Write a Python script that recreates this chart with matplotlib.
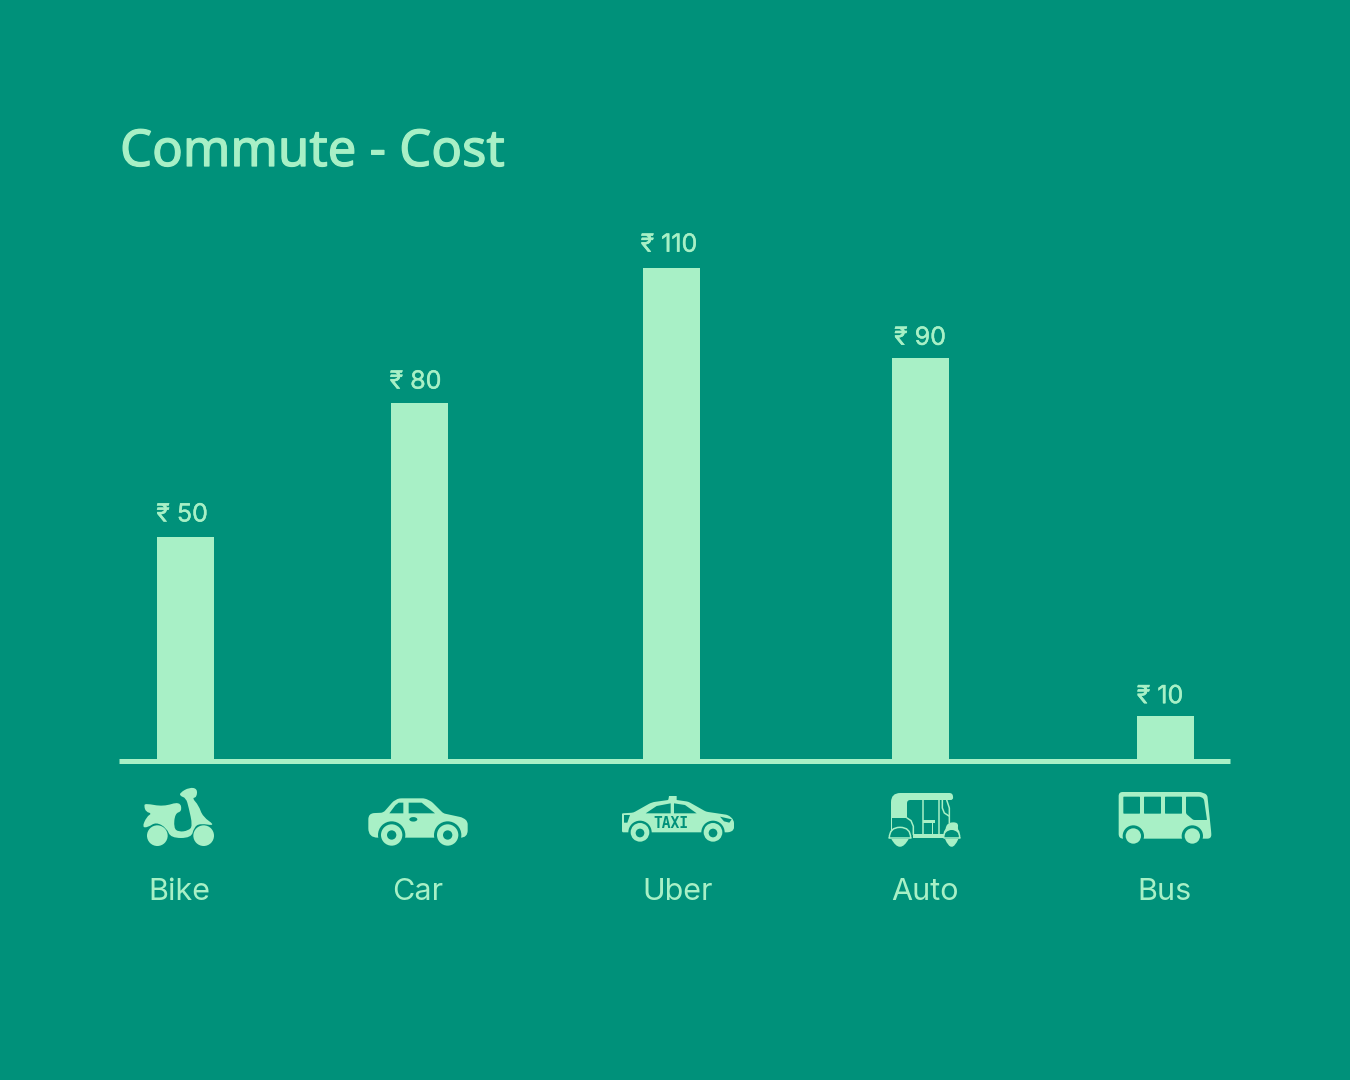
import matplotlib
matplotlib.use("Agg")
import numpy as np
import matplotlib.pyplot as plt
import matplotlib.patheffects as pe
from matplotlib.path import Path
from matplotlib.patches import PathPatch, Circle, Ellipse, Polygon

BG = "#00917A"
FG = "#A8F0C6"

modes = ["Bike", "Car", "Uber", "Auto", "Bus"]
costs = [50, 80, 110, 90, 10]
bar_x = [185.5, 419.5, 671.5, 920.5, 1165.5]
label_x = [179, 418, 678, 925, 1165]
cost_x = [182, 415.5, 669, 920, 1160]
cost_gap = [15.5, 14, 16.5, 13, 13]

W, H = 1350, 1080
BASE_Y = 761
PX_PER_RUPEE = 4.48

plt.rcParams["font.family"] = ["Inter", "DejaVu Sans"]

fig = plt.figure(figsize=(W / 100, H / 100), dpi=100, facecolor=BG)

# overlay in pixel coordinates for the icons and text
ov = fig.add_axes([0, 0, 1, 1], zorder=2)
ov.set_xlim(0, W)
ov.set_ylim(H, 0)
ov.axis("off")

# the bars, scaled in rupees
top_y = 200
ax = fig.add_axes([119 / W, 1 - BASE_Y / H, (1230 - 119) / W, (BASE_Y - top_y) / H], zorder=1)
ax.set_facecolor("none")
ax.set_xlim(119, 1230)
ax.set_ylim(0, (BASE_Y - top_y) / PX_PER_RUPEE)
ax.bar(bar_x, costs, width=57, color=FG, linewidth=0)
for s in ["top", "left", "right"]:
    ax.spines[s].set_visible(False)
ax.spines["bottom"].set_color(FG)
ax.spines["bottom"].set_linewidth(5 * 0.72)
ax.spines["bottom"].set_capstyle("butt")
ax.set_xticks([])
ax.set_yticks([])

thicker = [pe.withStroke(linewidth=0.3, foreground=FG)]

for cx, c, gap in zip(cost_x, costs, cost_gap):
    ax.annotate(f"₹ {c}", xy=(cx, c), xytext=(0, gap * 0.72), textcoords="offset points",
                ha="center", va="baseline", color=FG, fontsize=18, path_effects=thicker)

for x, m in zip(label_x, modes):
    ov.text(x, 900, m, ha="center", va="baseline", color=FG, fontsize=22)

ov.text(120, 166, "Commute - Cost", ha="left", va="baseline", color=FG, fontsize=36.6,
        fontfamily="Noto Sans", path_effects=[pe.withStroke(linewidth=0.9, foreground=FG)])


def smooth(pts):
    # closed quadratic curve through the midpoints of pts
    n = len(pts)
    mid = lambda a, b: ((a[0] + b[0]) / 2, (a[1] + b[1]) / 2)
    verts = [mid(pts[-1], pts[0])]
    codes = [Path.MOVETO]
    for i in range(n):
        verts += [pts[i], mid(pts[i], pts[(i + 1) % n])]
        codes += [Path.CURVE3, Path.CURVE3]
    return Path(verts, codes)


def rounded(pts):
    # closed polygon, a third item on a point is the corner radius
    verts, codes = [], []
    n = len(pts)
    for i, p in enumerate(pts):
        cur = np.array(p[:2], float)
        r = p[2] if len(p) > 2 else 0
        prev = np.array(pts[i - 1][:2], float)
        nxt = np.array(pts[(i + 1) % n][:2], float)
        u = (prev - cur) / np.linalg.norm(prev - cur)
        v = (nxt - cur) / np.linalg.norm(nxt - cur)
        verts += [cur + u * r, cur, cur + v * r]
        codes += [Path.LINETO, Path.CURVE3, Path.CURVE3]
    codes[0] = Path.MOVETO
    verts.append(verts[0])
    codes.append(Path.CLOSEPOLY)
    return Path(verts, codes)


def conv(pts, ox, oy, k=3):
    return [(ox + p[0] / k, oy + p[1] / k) + tuple(c / k for c in p[2:]) for p in pts]


def blob(pts, ox, oy, color=FG, z=3):
    ov.add_patch(PathPatch(smooth(conv(pts, ox, oy)), fc=color, ec="none", zorder=z))


def rpoly(pts, ox, oy, color=FG, z=3):
    ov.add_patch(PathPatch(rounded(conv(pts, ox, oy)), fc=color, ec="none", zorder=z))


def poly(pts, ox, oy, color=FG, z=3):
    ov.add_patch(Polygon(conv(pts, ox, oy), closed=True, fc=color, ec="none", zorder=z))


def disc(x, y, r, ox, oy, color=FG, z=3):
    ov.add_patch(Circle((ox + x / 3, oy + y / 3), r / 3, fc=color, ec="none", zorder=z))


def line(pts, ox, oy, lw=1.1, color=FG, z=5):
    p = conv(pts, ox, oy)
    ov.plot([a for a, _ in p], [b for _, b in p], color=color, lw=lw, solid_capstyle="round", zorder=z)


def draw_bike():
    ox, oy = 120, 770
    blob([(72, 108), (76, 100), (130, 110), (180, 94), (186, 124), (165, 130), (161, 174), (176, 186),
          (205, 182), (218, 168), (206, 112), (198, 84), (180, 78), (180, 68), (208, 52), (232, 56),
          (230, 82), (216, 84), (236, 106), (248, 140), (288, 168), (240, 160), (222, 172), (214, 204),
          (152, 204), (140, 174), (108, 156), (84, 172), (66, 172), (80, 140), (96, 130), (78, 126)], ox, oy)
    disc(112, 197, 31, ox, oy)
    disc(251, 197, 31, ox, oy)


def draw_car():
    ox, oy = 120, 770
    rpoly([(745, 130, 18), (790, 128, 8), (825, 88, 14), (840, 85, 6), (915, 85, 8), (935, 95, 6), (970, 130, 6),
           (1030, 143, 10), (1043, 155, 8), (1043, 203, 22), (745, 203, 28)], ox, oy)
    poly([(808, 130), (826, 106), (836, 98), (850, 98), (850, 130)], ox, oy, BG, z=4)
    poly([(866, 98), (905, 98), (945, 130), (866, 130)], ox, oy, BG, z=4)
    ov.add_patch(Ellipse((ox + 880 / 3, oy + 148 / 3), 8, 4.5, fc=BG, ec="none", zorder=4))
    for cx in (815, 983):
        disc(cx, 195, 41, ox, oy, BG, z=4)
        disc(cx, 195, 32, ox, oy, z=5)
        disc(cx, 195, 14, ox, oy, BG, z=6)


def draw_taxi():
    ox, oy = 600, 770
    rpoly([(66, 130, 3), (100, 128, 6), (155, 97, 10), (205, 90, 3), (207, 78), (230, 78), (230, 90), (265, 95, 6), (318, 125, 6),
           (385, 135, 8), (402, 150, 10), (402, 180, 8), (388, 187, 6), (66, 187, 4)], ox, oy)
    poly([(137, 130), (170, 108), (212, 100), (212, 130)], ox, oy, BG, z=4)
    poly([(222, 100), (255, 105), (290, 130), (222, 130)], ox, oy, BG, z=4)
    poly([(72, 135), (90, 135), (82, 158), (72, 158)], ox, oy, BG, z=4)
    poly([(360, 140), (395, 148), (388, 158), (372, 154)], ox, oy, BG, z=4)
    for cx in (120, 339):
        disc(cx, 187, 35, ox, oy, BG, z=4)
        disc(cx, 187, 28, ox, oy, z=5)
        disc(cx, 189, 13, ox, oy, BG, z=6)
    ov.text(ox + 213 / 3, oy + 160 / 3, "TAXI", ha="center", va="center", color=BG, fontsize=10.5,
            fontfamily="DejaVu Sans Mono", fontweight="bold", zorder=6)


def draw_auto():
    ox, oy = 885, 788
    rpoly([(18, 15, 28), (203, 15, 10), (205, 36, 8), (66, 36, 10), (66, 90), (18, 90)], ox, oy)
    poly([(18, 60), (22, 60), (22, 150), (18, 150)], ox, oy)
    poly([(85, 137), (182, 137), (182, 150), (85, 150)], ox, oy)
    line([(66, 90), (78, 98), (85, 115), (85, 140)], ox, oy)
    line([(113, 36), (113, 137)], ox, oy)
    line([(163, 36), (163, 137)], ox, oy)
    line([(172, 36), (172, 60), (178, 75), (192, 84)], ox, oy)
    line([(185, 36), (193, 60), (193, 105)], ox, oy)
    # seat
    poly([(113, 95), (150, 95), (150, 105), (143, 105), (143, 137), (140, 137), (140, 106), (113, 106)], ox, oy)
    # front panel
    blob([(190, 103), (220, 103), (218, 125), (226, 152), (180, 152), (180, 122)], ox, oy)
    # wheels and mudguards
    for cx, r, half in ((45, 32, 26), (200, 24, 20)):
        disc(cx, 150, r, ox, oy, BG, z=4)
        ov.add_patch(PathPatch(Path([(ox + (cx - half) / 3, oy + 153 / 3),
                                     (ox + cx / 3, oy + 200 / 3),
                                     (ox + (cx + half) / 3, oy + 153 / 3),
                                     (ox + (cx - half) / 3, oy + 153 / 3)],
                                    [Path.MOVETO, Path.CURVE3, Path.CURVE3, Path.CLOSEPOLY]),
                               fc=FG, ec="none", zorder=5))
        ov.add_patch(PathPatch(Path([(ox + (cx - r) / 3, oy + 150 / 3),
                                     (ox + (cx - r) / 3, oy + 118 / 3),
                                     (ox + cx / 3, oy + 118 / 3),
                                     (ox + (cx + r) / 3, oy + 118 / 3),
                                     (ox + (cx + r) / 3, oy + 150 / 3)],
                                    [Path.MOVETO, Path.CURVE3, Path.CURVE3, Path.CURVE3, Path.CURVE3]),
                               fc="none", ec=FG, lw=1.1, zorder=5))
        line([(cx - r, 150), (cx + r, 150)], ox, oy)


def draw_bus():
    ox, oy = 1100, 670
    rpoly([(56, 366, 12), (310, 366, 14), (322, 376, 6), (334, 490, 8), (334, 506, 12), (56, 506, 14)], ox, oy)
    rpoly([(70, 380, 2), (120, 380, 2), (120, 431, 2), (70, 431, 2)], ox, oy, BG, z=4)
    rpoly([(132, 380, 2), (183, 380, 2), (183, 431, 2), (132, 431, 2)], ox, oy, BG, z=4)
    rpoly([(195, 380, 2), (246, 380, 2), (246, 431, 2), (195, 431, 2)], ox, oy, BG, z=4)
    rpoly([(258, 380, 2), (304, 380, 8), (312, 388, 4), (321, 450, 2), (280, 450, 4), (258, 431, 4)], ox, oy, BG, z=4)
    for cx in (100, 277):
        disc(cx, 498, 32, ox, oy, BG, z=4)
        disc(cx, 498, 23, ox, oy, z=5)


draw_bike()
draw_car()
draw_taxi()
draw_auto()
draw_bus()

fig.savefig("out.png", dpi=100, facecolor=BG)
